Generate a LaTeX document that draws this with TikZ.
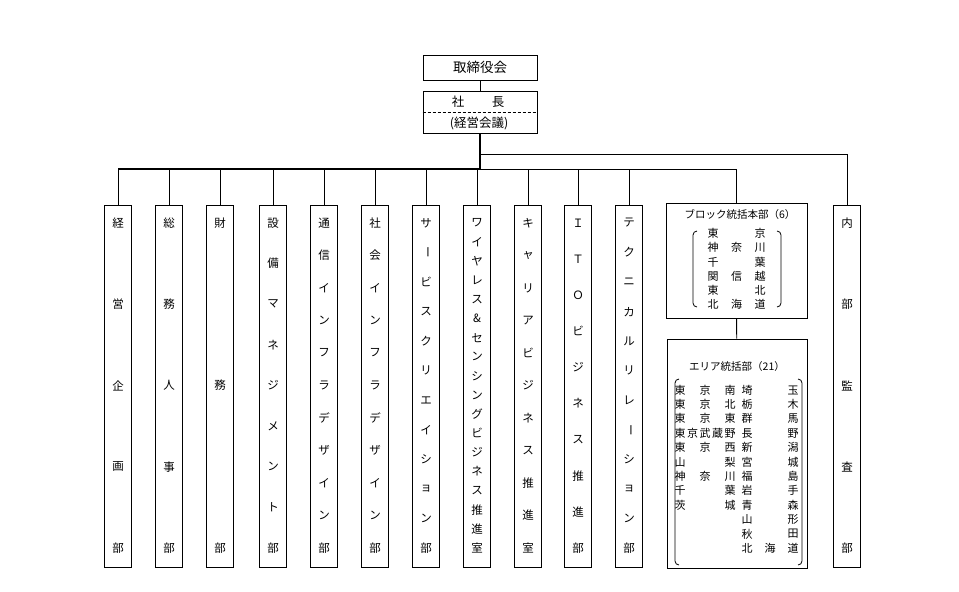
\documentclass[tikz,border=0pt]{standalone}
\usepackage{fontspec}
\newfontfamily\jp{Noto Sans CJK JP}
\tikzset{
  box/.style={draw, line width=0.9pt, inner sep=0pt},
  dept/.style={box, minimum width=27pt, minimum height=362pt},
  vch/.style={font=\jp\fontsize{11.5}{11.5}\selectfont, inner sep=0pt},
  lst/.style={font=\jp\fontsize{11}{11}\selectfont, inner sep=0pt},
  ttl/.style={font=\jp\fontsize{10.5}{10.5}\selectfont, inner sep=0pt},
  topt/.style={font=\jp\fontsize{13.5}{13.5}\selectfont, inner sep=0pt},
  prest/.style={font=\jp\fontsize{12.5}{12.5}\selectfont, inner sep=0pt},
  conn/.style={line width=0.9pt},
  busthick/.style={line width=2pt},
  brk/.style={line width=0.8pt, rounded corners=4pt},
}
\newcommand\chon{\rotatebox[origin=c]{-90}{ー}}
\newcommand\deptcol[4]{%
  \node[dept] (#1) at (#2,386) {};
  \foreach \c [count=\i from 0] in {#4} {\node[vch] (#1-\i) at (#2,{223+\i*325/(#3-1)}) {\c};}
}
\newcommand\spreadrow[6]{%
  \foreach \c [count=\i from 0] in {#6} {\node[lst] (#1-\i) at ({#2+\i*(#3-#2)/(#5-1)},#4) {\c};}
}
\newcommand\lbrak[3]{\draw[brk] (#1+4,#2) -- (#1,#2) -- (#1,#3) -- (#1+4,#3);}
\newcommand\rbrak[3]{\draw[brk] (#1-4,#2) -- (#1,#2) -- (#1,#3) -- (#1-4,#3);}
\begin{document}
\begin{tikzpicture}[x=1pt,y=-1pt]
\fill[white] (0,0) rectangle (959,592);
\useasboundingbox (0,0) rectangle (959,592);

% top
\node[box, minimum width=114pt, minimum height=25pt] (board) at (480,67.5) {};
\node[topt] (boardt) at (480,67.5) {取締役会};
\node[box, minimum width=114pt, minimum height=42pt] (pres) at (480,112) {};
\draw[line width=0.7pt, dashed, dash pattern=on 3pt off 2pt] (pres.west) -- (pres.east);
\node[prest] (pres1) at (458,102) {社};
\node[prest] (pres2) at (498,102) {長};
\node[prest] (pres3) at (479,123.5) {(経営会議)};

% departments
\deptcol{d1}{118}{5}{経,営,企,画,部}
\deptcol{d2}{169}{5}{総,務,人,事,部}
\deptcol{d3}{220}{3}{財,務,部}
\deptcol{d4}{273}{9}{設,備,マ,ネ,ジ,メ,ン,ト,部}
\deptcol{d5}{324}{11}{通,信,イ,ン,フ,ラ,デ,ザ,イ,ン,部}
\deptcol{d6}{375}{11}{社,会,イ,ン,フ,ラ,デ,ザ,イ,ン,部}
\deptcol{d7}{426}{12}{サ,\chon,ビ,ス,ク,リ,エ,イ,シ,ョ,ン,部}
\deptcol{d8}{477}{18}{ワ,イ,ヤ,レ,ス,\&,セ,ン,シ,ン,グ,ビ,ジ,ネ,ス,推,進,室}
\deptcol{d9}{528}{11}{キ,ャ,リ,ア,ビ,ジ,ネ,ス,推,進,室}
\deptcol{d10}{578}{10}{Ｉ,Ｔ,Ｏ,ビ,ジ,ネ,ス,推,進,部}
\deptcol{d11}{629}{12}{テ,ク,ニ,カ,ル,リ,レ,\chon,シ,ョ,ン,部}
\deptcol{d12}{847}{5}{内,部,監,査,部}

% block box
\node[box, minimum width=141pt, minimum height=115pt] (blk) at (736.5,260.5) {};
\node[ttl] (blkt) at (740,215) {ブロック統括本部（6）};
\spreadrow{b1}{713}{760}{233.5}{2}{東,京}
\spreadrow{b2}{713}{760}{247.7}{3}{神,奈,川}
\spreadrow{b3}{713}{760}{261.9}{2}{千,葉}
\spreadrow{b4}{713}{760}{276.1}{3}{関,信,越}
\spreadrow{b5}{713}{760}{290.3}{2}{東,北}
\spreadrow{b6}{713}{760}{304.5}{3}{北,海,道}
\lbrak{693}{231}{307}
\rbrak{781}{231}{307}

% area box
\node[box, minimum width=140pt, minimum height=229pt] (area) at (737,453.5) {};
\node[ttl] (areat) at (737,367) {エリア統括部（21）};
\spreadrow{a1}{680}{730}{390.0}{3}{東,京,南}
\spreadrow{a2}{680}{730}{404.4}{3}{東,京,北}
\spreadrow{a3}{680}{730}{418.8}{3}{東,京,東}
\spreadrow{a4}{680}{730}{433.2}{5}{東,京,武,蔵,野}
\spreadrow{a5}{680}{730}{447.6}{3}{東,京,西}
\spreadrow{a6}{680}{730}{462.0}{2}{山,梨}
\spreadrow{a7}{680}{730}{476.4}{3}{神,奈,川}
\spreadrow{a8}{680}{730}{490.8}{2}{千,葉}
\spreadrow{a9}{680}{730}{505.2}{2}{茨,城}
\spreadrow{c1}{747}{793}{390.0}{2}{埼,玉}
\spreadrow{c2}{747}{793}{404.4}{2}{栃,木}
\spreadrow{c3}{747}{793}{418.8}{2}{群,馬}
\spreadrow{c4}{747}{793}{433.2}{2}{長,野}
\spreadrow{c5}{747}{793}{447.6}{2}{新,潟}
\spreadrow{c6}{747}{793}{462.0}{2}{宮,城}
\spreadrow{c7}{747}{793}{476.4}{2}{福,島}
\spreadrow{c8}{747}{793}{490.8}{2}{岩,手}
\spreadrow{c9}{747}{793}{505.2}{2}{青,森}
\spreadrow{c10}{747}{793}{519.6}{2}{山,形}
\spreadrow{c11}{747}{793}{534.0}{2}{秋,田}
\spreadrow{c12}{747}{793}{548.4}{3}{北,海,道}
\lbrak{675}{379}{565}
\rbrak{802}{379}{565}

% connectors
\coordinate (bj) at (480,169);
\coordinate (aj) at (480,154);
\draw[conn] (board) -- (pres);
\draw[busthick] (pres.south) -- (bj);
\draw[busthick] (d1.north |- bj) -- (bj);
\draw[conn] (bj) -- (blk.north |- bj) -- (blk.north);
\foreach \d in {d1,d2,d3,d4,d5,d6,d7,d8,d9,d10,d11} {\draw[conn] (\d.north |- bj) -- (\d.north);}
\draw[conn] (aj) -| (d12.north);
\draw[conn] (blk) -- (area);
\end{tikzpicture}
\end{document}
